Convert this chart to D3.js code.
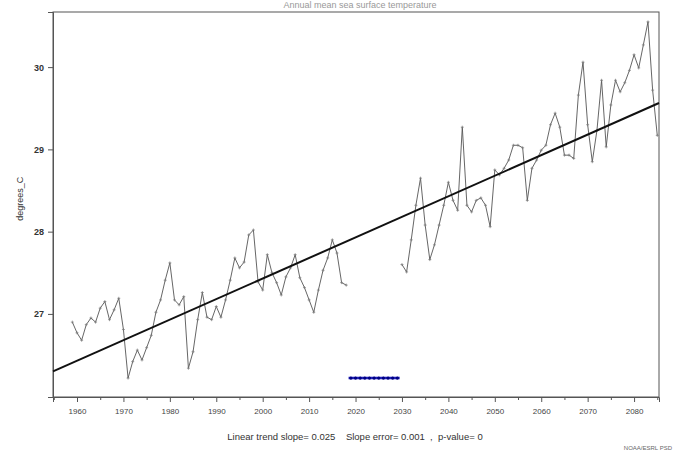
<!DOCTYPE html>
<html>
<head>
<meta charset="utf-8">
<script src="https://cdn.jsdelivr.net/npm/d3@7/dist/d3.min.js"></script>
<style>
  html, body { margin: 0; padding: 0; background: #fff; }
  svg { display: block; font-family: "Liberation Sans", Arial, sans-serif; }
</style>
</head>
<body>
<svg id="chart" width="678" height="452"></svg>
<script>
// Annual series, first segment (1959-2018)
const startYear1 = 1959;
const values1 = [
  26.90, 26.77, 26.68, 26.87, 26.95, 26.90, 27.07, 27.15, 26.93, 27.05,
  27.19, 26.81, 26.22, 26.42, 26.56, 26.44, 26.59, 26.74, 27.02, 27.17,
  27.41, 27.62, 27.17, 27.11, 27.21, 26.34, 26.54, 26.93, 27.26, 26.96,
  26.93, 27.09, 26.96, 27.17, 27.41, 27.68, 27.56, 27.63, 27.96, 28.02,
  27.39, 27.29, 27.72, 27.50, 27.38, 27.23, 27.45, 27.56, 27.72, 27.44,
  27.32, 27.17, 27.02, 27.29, 27.53, 27.68, 27.90, 27.74, 27.38, 27.35
];
// Annual series, second segment (2030-2085)
const startYear2 = 2030;
const values2 = [
  27.60, 27.51, 27.90, 28.32, 28.65, 28.08, 27.66, 27.84, 28.08, 28.32,
  28.60, 28.38, 28.26, 29.27, 28.32, 28.24, 28.38, 28.41, 28.32, 28.06,
  28.75, 28.69, 28.77, 28.87, 29.05, 29.05, 29.02, 28.38, 28.77, 28.87,
  28.99, 29.05, 29.30, 29.44, 29.27, 28.93, 28.93, 28.89, 29.66, 30.06,
  29.30, 28.85, 29.23, 29.84, 29.03, 29.54, 29.84, 29.70, 29.81, 29.96,
  30.15, 29.99, 30.27, 30.55, 29.72, 29.17
];
// Years without data, marked along the bottom
const missingYears = [2019, 2020, 2021, 2022, 2023, 2024, 2025, 2026, 2027, 2028, 2029];
const missingLevel = 26.22;

// Linear trend
const trendSlope = 0.025;
const trendAt1960 = 26.43;
const slopeError = "0.001";
const pValue = "0";

const xTicks = [1960, 1970, 1980, 1990, 2000, 2010, 2020, 2030, 2040, 2050, 2060, 2070, 2080];
const xMinorTicks = [1955, 1965, 1975, 1985, 1995, 2005, 2015, 2025, 2035, 2045, 2055, 2065, 2075, 2085];
const yTicks = [27, 28, 29, 30];

const titleText = "Annual mean sea surface temperature";
const yLabel = "degrees_C";
const creditText = "NOAA/ESRL PSD";

const svg = d3.select("#chart");
const W = 678, H = 452;
const m = { left: 53, right: 19, top: 12, bottom: 55 };

const x = d3.scaleLinear().domain([1954.83, 2085.37]).range([m.left, W - m.right]);
const y = d3.scaleLinear().domain([25.99, 30.67]).range([H - m.bottom, m.top]);

// plot frame
svg.append("rect")
  .attr("x", m.left).attr("y", m.top)
  .attr("width", W - m.left - m.right).attr("height", H - m.top - m.bottom)
  .attr("fill", "none").attr("stroke", "#555").attr("stroke-width", 1);

// x axis
const xAxis = svg.append("g")
  .attr("transform", `translate(0,${H - m.bottom})`)
  .call(d3.axisBottom(x).tickValues(xTicks).tickFormat(d3.format("d")).tickSize(5).tickPadding(6));
svg.append("g")
  .attr("transform", `translate(0,${H - m.bottom})`)
  .call(d3.axisBottom(x).tickValues(xMinorTicks).tickFormat("").tickSize(3))
  .call(g => g.select(".domain").remove());

// y axis
const yAxis = svg.append("g")
  .attr("transform", `translate(${m.left},0)`)
  .call(d3.axisLeft(y).tickValues(yTicks).tickFormat(d3.format("d")).tickSize(5).tickPadding(4));

svg.selectAll(".tick line").attr("stroke", "#555");
svg.selectAll(".domain").attr("stroke", "#555");
xAxis.selectAll("text").attr("font-size", 8).attr("fill", "#444");
yAxis.selectAll("text").attr("font-size", 9).attr("fill", "#333").attr("font-weight", "bold");

// data segments
const seg1 = values1.map((v, i) => ({ year: startYear1 + i, v }));
const seg2 = values2.map((v, i) => ({ year: startYear2 + i, v }));
const line = d3.line().x(d => x(d.year)).y(d => y(d.v));

[seg1, seg2].forEach(seg => {
  svg.append("path")
    .datum(seg)
    .attr("d", line)
    .attr("fill", "none")
    .attr("stroke", "#555")
    .attr("stroke-width", 0.9);
  svg.append("g").selectAll("path")
    .data(seg)
    .join("path")
    .attr("d", d => `M${x(d.year) - 1.5},${y(d.v)}h3M${x(d.year)},${y(d.v) - 1.5}v3`)
    .attr("stroke", "#777")
    .attr("stroke-width", 0.7);
});

// missing-data marker
svg.append("line")
  .attr("x1", x(missingYears[0] - 0.5)).attr("x2", x(missingYears[missingYears.length - 1] + 0.5))
  .attr("y1", y(missingLevel)).attr("y2", y(missingLevel))
  .attr("stroke", "#2222bb").attr("stroke-width", 2.5);
svg.append("g").selectAll("circle")
  .data(missingYears)
  .join("circle")
  .attr("cx", d => x(d)).attr("cy", y(missingLevel)).attr("r", 1.6)
  .attr("fill", "#000080");

// trend line
const x0 = x.domain()[0], x1 = x.domain()[1];
svg.append("line")
  .attr("x1", x(x0)).attr("y1", y(trendAt1960 + trendSlope * (x0 - 1960)))
  .attr("x2", x(x1)).attr("y2", y(trendAt1960 + trendSlope * (x1 - 1960)))
  .attr("stroke", "#111").attr("stroke-width", 2);

// texts
svg.append("text")
  .attr("x", 360).attr("y", 8)
  .attr("text-anchor", "middle").attr("font-size", 9).attr("fill", "#999")
  .text(titleText);

svg.append("text")
  .attr("transform", `translate(23,${y(28.4)}) rotate(-90)`)
  .attr("text-anchor", "middle").attr("font-size", 9).attr("fill", "#333")
  .text(yLabel);

svg.append("text")
  .attr("x", 355).attr("y", 440)
  .attr("text-anchor", "middle").attr("font-size", 9.5).attr("fill", "#333")
  .attr("xml:space", "preserve")
  .text(`Linear trend slope= ${trendSlope.toFixed(3)}    Slope error= ${slopeError}  ,  p-value= ${pValue}`);

svg.append("text")
  .attr("x", 672).attr("y", 450)
  .attr("text-anchor", "end").attr("font-size", 6).attr("fill", "#666")
  .text(creditText);
</script>
</body>
</html>
